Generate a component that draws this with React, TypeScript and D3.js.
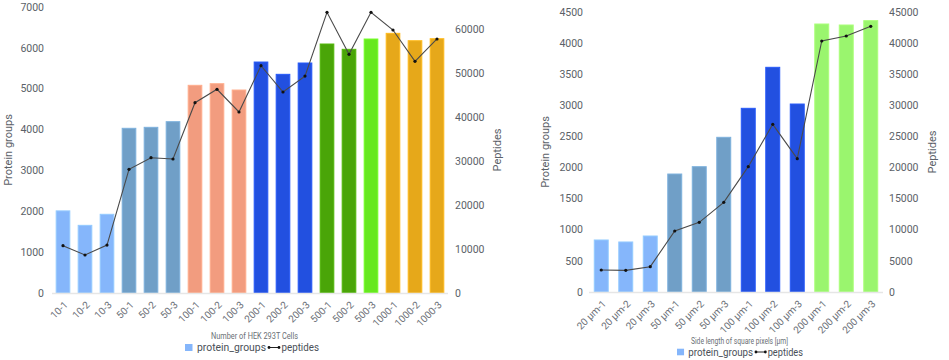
import React from "react";
import * as d3 from "d3";

// ---- Left chart data ----
const cellCategories = ["10-1","10-2","10-3","50-1","50-2","50-3","100-1","100-2","100-3","200-1","200-2","200-3","500-1","500-2","500-3","1000-1","1000-2","1000-3"];
const cellProteinGroups = [2010,1656,1926,4031,4055,4193,5083,5123,4968,5653,5352,5629,6094,5964,6216,6355,6175,6224];
const cellPeptides = [10750,8640,10900,28100,30750,30450,43250,46300,41140,51660,45680,49300,63800,54250,63800,59770,52650,57730];
const cellColors = ["#85b6fb","#85b6fb","#85b6fb","#709fc7","#709fc7","#709fc7","#f29c7f","#f29c7f","#f29c7f","#2250e0","#2250e0","#2250e0","#4aa508","#4aa508","#66e81f","#e6a81a","#e6a81a","#e6a81a"];
const cellLeftTicks = [0,1000,2000,3000,4000,5000,6000,7000];
const cellRightTicks = [0,10000,20000,30000,40000,50000,60000];

// ---- Right chart data ----
const pixelCategories = ["20 µm-1","20 µm-2","20 µm-3","50 µm-1","50 µm-2","50 µm-3","100 µm-1","100 µm-2","100 µm-3","200 µm-1","200 µm-2","200 µm-3"];
const pixelProteinGroups = [836,804,900,1896,2014,2486,2952,3611,3021,4307,4291,4361];
const pixelPeptides = [3536,3482,4071,9804,11200,14410,20140,26950,21430,40340,41140,42700];
const pixelColors = ["#85b6fb","#85b6fb","#85b6fb","#709fc7","#709fc7","#709fc7","#2250e0","#2250e0","#2250e0","#9af56e","#9af56e","#9af56e"];
const pixelLeftTicks = [0,500,1000,1500,2000,2500,3000,3500,4000,4500];
const pixelRightTicks = [0,5000,10000,15000,20000,25000,30000,35000,40000,45000];

const FONT = "Roboto, 'DejaVu Sans', sans-serif";
const TICK_COLOR = "#5b6168";

type ChartProps = {
  categories: string[];
  bars: number[];
  line: number[];
  colors: string[];
  leftTicks: number[];
  rightTicks: number[];
  leftMax: number;
  rightMax: number;
  x0: number; x1: number; y0: number; y1: number;
  paddingInner: number;
  xTitle: string;
  xTitleX: number; xTitleY: number; xTitleLen: number;
  leftTitleX: number; rightTitleX: number; titleY: number;
  legendX: number; legendY: number; legendScale: number;
  tickGapL: number; tickGapR: number;
};

function Chart(p: ChartProps) {
  const x = d3.scaleBand<string>().domain(p.categories).range([p.x0, p.x1]).paddingInner(p.paddingInner).paddingOuter(p.paddingInner / 2);
  const yL = d3.scaleLinear().domain([0, p.leftMax]).range([p.y0, p.y1]);
  const yR = d3.scaleLinear().domain([0, p.rightMax]).range([p.y0, p.y1]);
  const lineGen = d3.line<number>().x((_, i) => (x(p.categories[i]) as number) + x.bandwidth() / 2).y((d) => yR(d));
  const s = p.legendScale;
  return (
    <g fontFamily={FONT}>
      {p.leftTicks.map((t) => (
        <text key={"l" + t} x={p.x0 - p.tickGapL} y={yL(t)} dy="0.35em" textAnchor="end" fontSize={10.5} fill={TICK_COLOR}>{t}</text>
      ))}
      {p.rightTicks.map((t) => (
        <text key={"r" + t} x={p.x1 + p.tickGapR} y={yR(t)} dy="0.35em" textAnchor="start" fontSize={10.5} fill={TICK_COLOR}>{t}</text>
      ))}
      {p.categories.map((c, i) => (
        <rect key={"b" + c} x={x(c)} y={yL(p.bars[i])} width={x.bandwidth()} height={p.y0 - yL(p.bars[i])}
          fill={p.colors[i]} stroke={d3.color(p.colors[i])!.brighter(0.3).toString()} strokeWidth={1} />
      ))}
      <line x1={p.x0} x2={p.x1} y1={p.y0 + 0.5} y2={p.y0 + 0.5} stroke="#e6e6e6" strokeWidth={1.5} />
      <path d={lineGen(p.line) || ""} fill="none" stroke="#4a4a4a" strokeWidth={1.1} />
      {p.line.map((v, i) => (
        <circle key={"p" + i} cx={(x(p.categories[i]) as number) + x.bandwidth() / 2} cy={yR(v)} r={1.6} fill="#111" />
      ))}
      {p.categories.map((c) => {
        const cx = (x(c) as number) + x.bandwidth() / 2;
        return (
          <text key={"x" + c} transform={`translate(${cx + 3},${p.y0 + 10}) rotate(-45)`} textAnchor="end" dy="0.35em"
            fontSize={10} fill="#6b7077">{c}</text>
        );
      })}
      <text x={p.xTitleX} y={p.xTitleY} textAnchor="middle" fontSize={8.5} fill="#6a6f75"
        textLength={p.xTitleLen} lengthAdjust="spacingAndGlyphs">{p.xTitle}</text>
      <text transform={`translate(${p.leftTitleX},${p.titleY}) rotate(-90)`} textAnchor="middle" dy="0.35em" fontSize={11} fill={TICK_COLOR}>Protein groups</text>
      <text transform={`translate(${p.rightTitleX},${p.titleY}) rotate(-90)`} textAnchor="middle" dy="0.35em" fontSize={11} fill={TICK_COLOR}>Peptides</text>
      <g transform={`translate(${p.legendX},${p.legendY})`}>
        <rect x={0} y={-3.5 * s} width={7.5 * s} height={7 * s} fill="#85b6fb" />
        <text x={12 * s} y={0} dy="0.35em" fontSize={11 * s} fill="#4a5058" textLength={69 * s} lengthAdjust="spacingAndGlyphs">protein_groups</text>
        <line x1={84 * s} x2={94 * s} y1={0} y2={0} stroke="#222" strokeWidth={1} />
        <circle cx={84 * s} cy={0} r={1.4} fill="#111" />
        <circle cx={94 * s} cy={0} r={1.4} fill="#111" />
        <text x={96.5 * s} y={0} dy="0.35em" fontSize={11 * s} fill="#4a5058" textLength={37.5 * s} lengthAdjust="spacingAndGlyphs">peptides</text>
      </g>
    </g>
  );
}

export default function App() {
  return (
    <svg width={949} height={360} style={{ position: "absolute", left: 0, top: 0, background: "#fff" }}>
      <Chart categories={cellCategories} bars={cellProteinGroups} line={cellPeptides} colors={cellColors}
        leftTicks={cellLeftTicks} rightTicks={cellRightTicks} leftMax={7000} rightMax={65000}
        x0={52} x1={448} y0={293} y1={7} paddingInner={0.38}
        xTitle="Number of HEK 293T Cells" xTitleX={254.5} xTitleY={339} xTitleLen={87}
        leftTitleX={8} rightTitleX={497} titleY={150}
        legendX={185} legendY={347.5} legendScale={1} tickGapL={8} tickGapR={7} />
      <Chart categories={pixelCategories} bars={pixelProteinGroups} line={pixelPeptides} colors={pixelColors}
        leftTicks={pixelLeftTicks} rightTicks={pixelRightTicks} leftMax={4500} rightMax={45000}
        x0={589} x1={883} y0={292} y1={12} paddingInner={0.43}
        xTitle="Side length of square pixels [µm]" xTitleX={739.5} xTitleY={344} xTitleLen={97}
        leftTitleX={545} rightTitleX={932} titleY={152}
        legendX={677} legendY={352} legendScale={0.94} tickGapL={6} tickGapR={6} />
    </svg>
  );
}
